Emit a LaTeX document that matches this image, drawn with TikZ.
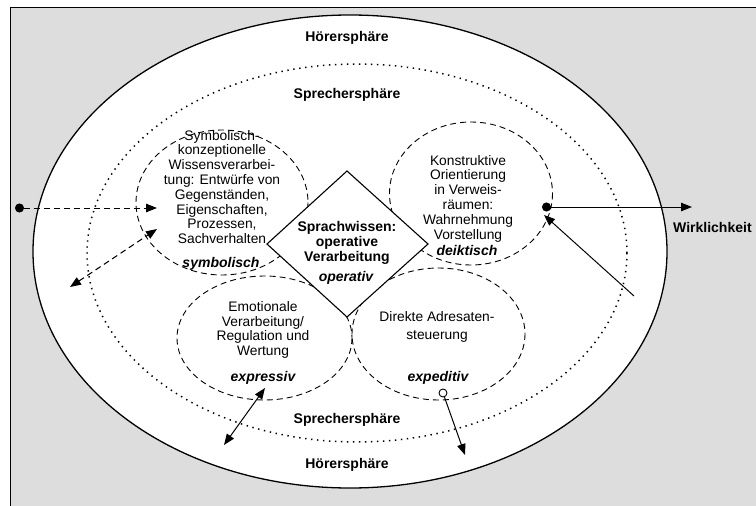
\documentclass[tikz,border=0pt]{standalone}
\usepackage{fontspec}
\setmainfont{Liberation Sans}
\usetikzlibrary{arrows.meta,shapes.geometric}
\definecolor{bggray}{RGB}{221,221,221}
\begin{document}
\begin{tikzpicture}[x=1pt,y=-1pt,
  txt/.style={align=center,font=\fontsize{13.8}{14.8}\selectfont,inner sep=0pt},
  bld/.style={font=\fontsize{14}{15}\selectfont\bfseries,inner sep=0pt,align=center},
  bit/.style={font=\fontsize{14}{15}\selectfont\bfseries\itshape,inner sep=0pt},
  dashc/.style={draw,dash pattern=on 6pt off 4pt,line width=0.9pt},
  arr/.style={-{Triangle[length=11pt,width=8.5pt]},line width=1pt},
  darr/.style={{Triangle[length=11pt,width=8.5pt]}-{Triangle[length=11pt,width=8.5pt]},line width=1pt},
  dotstart/.style={{Circle[length=9pt]}-{Triangle[length=11pt,width=8.5pt]},line width=1pt}]
\useasboundingbox (0,0) rectangle (756,506);
% frame
\fill[white] (0,0) rectangle (756,506);
\draw[fill=bggray,line width=1pt] (10.5,7) rectangle (760,510);
% outer ellipse
\draw[fill=white,line width=1.3pt] (350,251.5) ellipse [x radius=317,y radius=236.5];
% dotted ellipse
\draw[line width=1.5pt,dash pattern=on 1.4pt off 4.6pt] (357,253) ellipse [x radius=270,y radius=189];
% dashed circles
\draw[dashc] (222,202.5) ellipse [x radius=86,y radius=72.5];
\draw[dashc] (471,193.5) ellipse [x radius=81.5,y radius=71.5];
\draw[dashc] (264.5,338) ellipse [x radius=87.5,y radius=62];
\draw[dashc] (438.5,334) ellipse [x radius=86.5,y radius=66];
% diamond
\draw[fill=white,line width=1.1pt] (347,171) coordinate (dt) -- (428,244) coordinate (dr) -- (347,317) coordinate (db) -- (267,244) coordinate (dl) -- cycle;
% texts
\node[bld] (h1) at (347,38) {Hörersphäre};
\node[bld] (s1) at (347,95) {Sprechersphäre};
\node[bld] (s2) at (347,420) {Sprechersphäre};
\node[bld] (h2) at (347,465) {Hörersphäre};
\node[bld,anchor=west] (wk) at (673,227) {Wirklichkeit};
\node[txt] (sym) at (222,187) {Symbolisch-\\konzeptionelle\\Wissensverarbei-\\tung: Entwürfe von\\Gegenständen,\\Eigenschaften,\\Prozessen,\\Sachverhalten};
\node[bit] (symb) at (221,264) {symbolisch};
\node[txt] (kon) at (468,198.5) {Konstruktive\\Orientierung\\in Verweis-\\räumen:\\Wahrnehmung\\Vorstellung};
\node[bit] (deik) at (467,250) {deiktisch};
\node[bld] (spr) at (347,242.5) {Sprachwissen:\\operative\\Verarbeitung};
\node[bit] (oper) at (346,278) {operativ};
\node[txt] (emo) at (263,330) {Emotionale\\Verarbeitung/\\Regulation und\\Wertung};
\node[bit] (expr) at (263,378) {expressiv};
\node[txt,font=\fontsize{13.8}{17.6}\selectfont] (dir) at (437,327) {Direkte Adresaten-\\steuerung};
\node[bit] (expe) at (438,378) {expeditiv};
% arrows
\coordinate (a1s) at (15,208);
\coordinate (a1e) at (157,208);
\draw[dotstart,dash pattern=on 6pt off 4pt] (a1s) -- (a1e);
\coordinate (a2s) at (70,287);
\coordinate (a2e) at (157,229);
\draw[darr,dash pattern=on 6pt off 4pt] (a2s) -- (a2e);
\coordinate (a3s) at (542,207);
\coordinate (a3e) at (692,207);
\draw[dotstart] (a3s) -- (a3e);
\coordinate (a4s) at (634,296);
\coordinate (a4e) at (544,215);
\draw[arr] (a4s) -- (a4e);
\coordinate (a5s) at (224,445);
\coordinate (a5e) at (265,388);
\draw[darr] (a5s) -- (a5e);
\node[circle,draw,fill=white,line width=0.9pt,minimum size=8pt,inner sep=0pt] (oc) at (443,393) {};
\coordinate (a6e) at (465,455);
\draw[arr] (oc) -- (a6e);
\end{tikzpicture}
\end{document}
